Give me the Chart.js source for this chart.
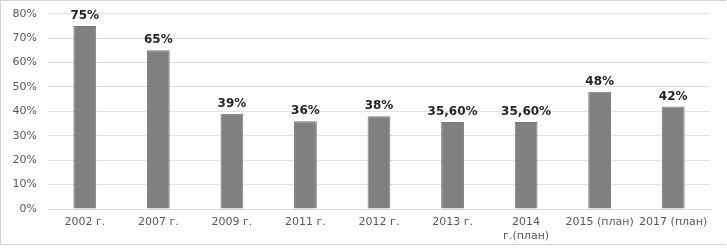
<!DOCTYPE html>
<html>
<head>
<meta charset="utf-8">
<script src="https://cdn.jsdelivr.net/npm/chart.js@4/dist/chart.umd.min.js"></script>
<style>
  html, body { margin: 0; padding: 0; background: #fff; }
  #wrap { position: relative; width: 727px; height: 249px; }
  #frame { position: absolute; left: 0; top: 0; width: 726px; height: 245px;
           border: 1px solid #d4d4d4; border-right: none; box-sizing: border-box; pointer-events: none; }
</style>
</head>
<body>
<div id="wrap">
  <canvas id="chart" width="727" height="249"></canvas>
  <div id="frame"></div>
</div>
<script>
// данные
const categories = ['2002 г.', '2007 г.', '2009 г.', '2011 г.', '2012 г.', '2013 г.', ['2014', 'г.(план)'], '2015 (план)', '2017 (план)'];
const values = [75, 65, 39, 36, 38, 35.6, 35.6, 48, 42];
const valueLabels = ['75%', '65%', '39%', '36%', '38%', '35,60%', '35,60%', '48%', '42%'];
const yTicks = [0, 10, 20, 30, 40, 50, 60, 70, 80];

// подписи над столбцами
const barLabels = {
    id: 'barLabels',
    afterDatasetsDraw(chart) {
        const ctx = chart.ctx;
        const meta = chart.getDatasetMeta(0);
        ctx.save();
        ctx.font = 'bold 12px "DejaVu Sans", sans-serif';
        ctx.fillStyle = '#262626';
        ctx.textAlign = 'center';
        ctx.textBaseline = 'bottom';
        meta.data.forEach((bar, i) => {
            ctx.fillText(valueLabels[i], bar.x, bar.y - 4);
        });
        ctx.restore();
    }
};

const ctx = document.getElementById('chart').getContext('2d');
new Chart(ctx, {
    type: 'bar',
    data: {
        labels: categories,
        datasets: [{
            data: values,
            backgroundColor: '#808080',
            borderColor: '#7a7a7a',
            borderWidth: 1,
            barPercentage: 0.62,
            categoryPercentage: 0.5
        }]
    },
    options: {
        responsive: false,
        animation: false,
        layout: { padding: { top: 13, right: 17, bottom: 0, left: 0 } },
        plugins: {
            legend: { display: false },
            tooltip: { enabled: false }
        },
        scales: {
            x: {
                afterFit(scale) { scale.height = 40; },
                grid: { display: false, drawTicks: false },
                border: { color: '#d9d9d9', width: 1 },
                ticks: {
                    color: '#595959',
                    font: { family: '"DejaVu Sans", sans-serif', size: 11, lineHeight: 1.3 },
                    padding: 6,
                    maxRotation: 0,
                    autoSkip: false
                }
            },
            y: {
                min: 0,
                max: 80,
                afterFit(scale) { scale.width = 48; },
                afterBuildTicks(scale) { scale.ticks = yTicks.map(v => ({ value: v })); },
                grid: { color: '#e3e3e3', lineWidth: 1, drawTicks: false },
                border: { display: false },
                ticks: {
                    color: '#595959',
                    font: { family: '"DejaVu Sans", sans-serif', size: 11, lineHeight: 0.5 },
                    padding: 11,
                    callback: v => v + '%'
                }
            }
        }
    },
    plugins: [barLabels]
});
</script>
</body>
</html>
